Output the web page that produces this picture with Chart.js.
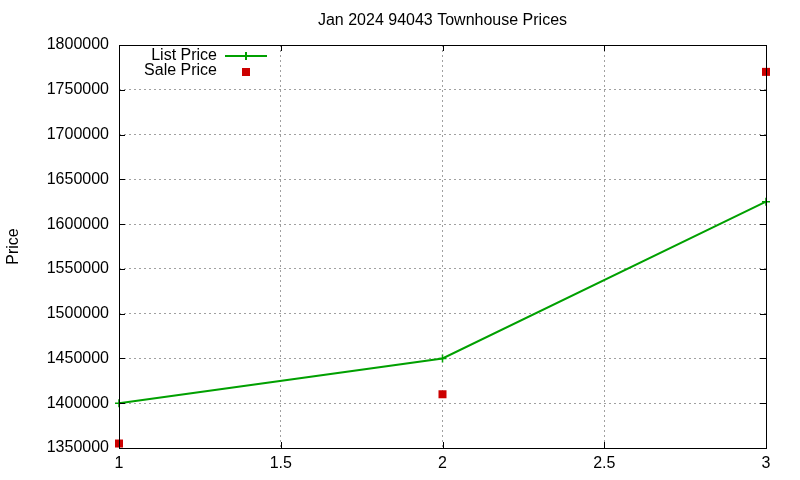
<!DOCTYPE html>
<html>
<head>
<meta charset="utf-8">
<script src="https://cdn.jsdelivr.net/npm/chart.js@4/dist/chart.umd.min.js"></script>
<style>
  html, body { margin: 0; padding: 0; background: #fff; }
  #wrap { width: 800px; height: 480px; }
</style>
</head>
<body>
<div id="wrap"><canvas id="chart" width="800" height="480"></canvas></div>
<script>
// Data
const months = [1, 2, 3];
const listPrice = [1400000, 1450000, 1625000];
const salePrice = [1355000, 1410000, 1770000];
const xTicks = [1, 1.5, 2, 2.5, 3];
const chartTitle = "Jan 2024 94043 Townhouse Prices";

const FONT = "'Liberation Sans', Arial, sans-serif";
const GREEN = "#00a000";
const RED = "#cc0000";

// Border box with small inward ticks, like gnuplot
const frame = {
  id: "frame",
  afterDatasetsDraw(chart) {
    const { ctx, chartArea: a, scales } = chart;
    ctx.save();
    ctx.strokeStyle = "#000";
    ctx.lineWidth = 1;
    ctx.beginPath();
    for (const t of scales.y.ticks) {
      const y = Math.round(scales.y.getPixelForValue(t.value)) + 0.5;
      ctx.moveTo(a.left, y); ctx.lineTo(a.left + 6, y);
      ctx.moveTo(a.right, y); ctx.lineTo(a.right - 6, y);
    }
    for (const t of scales.x.ticks) {
      const x = Math.round(scales.x.getPixelForValue(t.value)) + 0.5;
      ctx.moveTo(x, a.bottom); ctx.lineTo(x, a.bottom - 6);
      ctx.moveTo(x, a.top); ctx.lineTo(x, a.top + 6);
    }
    ctx.stroke();
    ctx.strokeRect(Math.round(a.left) + 0.5, Math.round(a.top) + 0.5,
      Math.round(a.right - a.left), Math.round(a.bottom - a.top));
    ctx.restore();
  }
};

// Title centred over the plot, plus the key in the top-left corner
const keyBox = {
  id: "keyBox",
  afterDraw(chart) {
    const { ctx, chartArea: a } = chart;
    ctx.save();
    ctx.font = "16px " + FONT;
    ctx.fillStyle = "#000";
    ctx.textAlign = "center";
    ctx.textBaseline = "middle";
    ctx.fillText(chartTitle, (a.left + a.right) / 2, 21);

    ctx.textAlign = "right";
    ctx.fillText(chart.data.datasets[0].label, 217, 56);
    ctx.fillText(chart.data.datasets[1].label, 217, 71);
    ctx.strokeStyle = GREEN;
    ctx.lineWidth = 2;
    ctx.beginPath();
    ctx.moveTo(225, 56); ctx.lineTo(267, 56);
    ctx.moveTo(246, 52); ctx.lineTo(246, 60);
    ctx.stroke();
    ctx.fillStyle = RED;
    ctx.fillRect(242, 68, 8, 8);
    ctx.restore();
  }
};

new Chart(document.getElementById("chart"), {
  type: "line",
  data: {
    datasets: [
      {
        label: "List Price",
        data: months.map((m, i) => ({ x: m, y: listPrice[i] })),
        borderColor: GREEN,
        backgroundColor: GREEN,
        borderWidth: 2,
        pointStyle: "cross",
        pointRadius: 4,
        pointBorderWidth: 1.5,
        tension: 0,
        clip: false
      },
      {
        label: "Sale Price",
        data: months.map((m, i) => ({ x: m, y: salePrice[i] })),
        showLine: false,
        borderColor: RED,
        backgroundColor: RED,
        pointStyle: "rect",
        pointRadius: 5.66,
        pointBorderWidth: 0,
        clip: false
      }
    ]
  },
  plugins: [frame, keyBox],
  options: {
    responsive: false,
    animation: false,
    layout: { padding: { left: 0, right: 34, top: 45, bottom: 0 } },
    plugins: {
      legend: { display: false },
      tooltip: { enabled: false },
      title: { display: false }
    },
    scales: {
      x: {
        type: "linear",
        min: 1,
        max: 3,
        afterBuildTicks(scale) { scale.ticks = xTicks.map(v => ({ value: v })); },
        afterFit(scale) { scale.height = 32; },
        ticks: {
          color: "#000",
          font: { family: FONT, size: 16 },
          padding: 6,
          maxRotation: 0,
          callback: v => String(v)
        },
        grid: { color: "#a0a0a0", drawTicks: false, tickLength: 0 },
        border: { display: false, dash: [2, 3] }
      },
      y: {
        min: 1350000,
        max: 1800000,
        afterFit(scale) { scale.width = 119; },
        ticks: {
          stepSize: 50000,
          color: "#000",
          font: { family: FONT, size: 16 },
          padding: 10,
          callback: v => String(v)
        },
        grid: { color: "#a0a0a0", drawTicks: false, tickLength: 0 },
        border: { display: false, dash: [2, 3] },
        title: {
          display: true,
          text: "Price",
          color: "#000",
          font: { family: FONT, size: 16 },
          padding: { top: 4, bottom: 30 }
        }
      }
    }
  }
});
</script>
</body>
</html>
